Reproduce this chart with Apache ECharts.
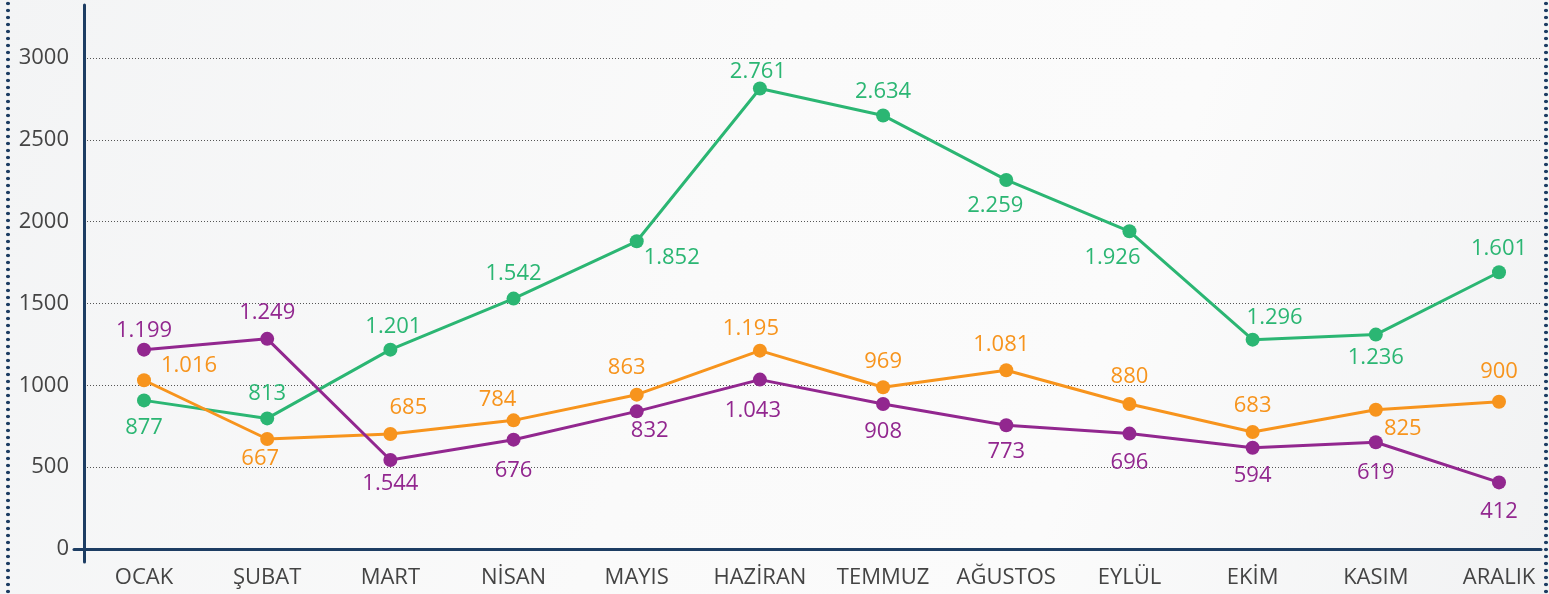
<!DOCTYPE html>
<html>
<head>
<meta charset="utf-8">
<script src="https://cdn.jsdelivr.net/npm/echarts@6/dist/echarts.min.js"></script>
<style>
  html, body { margin: 0; padding: 0; width: 1549px; height: 594px; overflow: hidden; }
  body { background: linear-gradient(110deg, #f3f4f5 0%, #fafafa 45%, #fbfbfb 70%, #f1f2f3 100%); position: relative; }
  .dots { position: absolute; top: 0; width: 4px; height: 594px;
          background-image: radial-gradient(circle at 2px 3.5px, #1d3d63 1.6px, rgba(29,61,99,0) 2.1px);
          background-size: 4px 7px; background-repeat: repeat-y; }
  #dl { left: 6px; }
  #dr { left: 1544px; }
  #chart { position: absolute; left: 0; top: 0; width: 1549px; height: 594px; }
</style>
</head>
<body>
<div class="dots" id="dl"></div>
<div class="dots" id="dr"></div>
<div id="chart"></div>
<script>
// ---- data ----
const categories = ['OCAK', 'ŞUBAT', 'MART', 'NİSAN', 'MAYIS', 'HAZİRAN', 'TEMMUZ', 'AĞUSTOS', 'EYLÜL', 'EKİM', 'KASIM', 'ARALIK'];
const greenValues  = [908, 798, 1218, 1530, 1880, 2814, 2649, 2255, 1941, 1279, 1310, 1691];
const orangeValues = [1031, 672, 703, 786, 943, 1212, 988, 1092, 886, 715, 851, 900];
const purpleValues = [1218, 1284, 544, 668, 841, 1035, 886, 756, 705, 619, 652, 407];
const greenLabels  = ['877', '813', '1.201', '1.542', '1.852', '2.761', '2.634', '2.259', '1.926', '1.296', '1.236', '1.601'];
const orangeLabels = ['1.016', '667', '685', '784', '863', '1.195', '969', '1.081', '880', '683', '825', '900'];
const purpleLabels = ['1.199', '1.249', '1.544', '676', '832', '1.043', '908', '773', '696', '594', '619', '412'];
const yMin = 0, yMax = 3000, yStep = 500;

// ---- label placement (offsets from the point, px) ----
const greenOffsets  = [[0,27],[0,-25],[3,-23],[0,-25],[35,16],[-2,-17],[0,-24],[-11,26],[-17,26],[22,-22],[0,23],[0,-24]];
const orangeOffsets = [[45,-15],[-7,20],[18,-26],[-16,-21],[-10,-27],[-9,-22],[0,-26],[-5,-26],[0,-27],[0,-26],[27,19],[0,-30]];
const purpleOffsets = [[0,-19],[0,-26],[0,24],[0,31],[13,19],[-7,31],[0,28],[0,26],[0,29],[0,28],[0,30],[0,29]];

const FONT = '"Open Sans", "Noto Sans", sans-serif';
const FS = 22;
const GREEN = '#2bb673', ORANGE = '#f7941d', PURPLE = '#92278f', NAVY = '#1d3d63';

function buildSeries(name, values, labels, offsets, color) {
  return {
    name: name, type: 'line', xAxisIndex: 0, yAxisIndex: 0,
    symbol: 'circle', symbolSize: 14,
    lineStyle: { color: color, width: 3 },
    itemStyle: { color: color },
    data: values.map(function (v, i) {
      return {
        value: v,
        label: { show: true, position: 'inside', offset: offsets[i],
                 formatter: labels[i], color: color, fontSize: FS, fontFamily: FONT }
      };
    })
  };
}

const chart = echarts.init(document.getElementById('chart'), null, { renderer: 'canvas' });
chart.setOption({
  animation: false,
  backgroundColor: 'transparent',
  grid: [
    { left: 144, right: 50, top: 58, bottom: 45 },   // data
    { left: 84, right: 8, top: 58, bottom: 45 },     // split lines + y labels
    { left: 84, right: 8, top: 5, bottom: 32 },      // y axis line
    { left: 74, right: 8, top: 58, bottom: 45 }      // x axis line
  ],
  xAxis: [
    { gridIndex: 0, type: 'category', data: categories, boundaryGap: false,
      axisLine: { show: false }, axisTick: { show: false }, splitLine: { show: false },
      axisLabel: { color: '#444', fontSize: FS, fontFamily: FONT, margin: 18, interval: 0 } },
    { gridIndex: 1, type: 'value', show: false },
    { gridIndex: 2, type: 'value', show: false },
    { gridIndex: 3, type: 'value', axisLine: { show: true, lineStyle: { color: NAVY, width: 3 } },
      axisTick: { show: false }, axisLabel: { show: false }, splitLine: { show: false } }
  ],
  yAxis: [
    { gridIndex: 0, type: 'value', min: yMin, max: yMax, interval: yStep, show: false },
    { gridIndex: 1, type: 'value', min: yMin, max: yMax, interval: yStep,
      axisLine: { show: false }, axisTick: { show: false },
      splitLine: { show: true, lineStyle: { color: '#555', type: [1, 2], width: 1 } },
      axisLabel: { color: '#444', fontSize: FS, fontFamily: FONT, margin: 15,
                   formatter: function (v) { return String(v); } } },
    { gridIndex: 2, type: 'value', min: 0, max: 1,
      axisLine: { show: true, lineStyle: { color: NAVY, width: 3 } },
      axisTick: { show: false }, axisLabel: { show: false }, splitLine: { show: false } },
    { gridIndex: 3, type: 'value', show: false }
  ],
  series: [
    buildSeries('green', greenValues, greenLabels, greenOffsets, GREEN),
    buildSeries('orange', orangeValues, orangeLabels, orangeOffsets, ORANGE),
    buildSeries('purple', purpleValues, purpleLabels, purpleOffsets, PURPLE)
  ]
});
</script>
</body>
</html>
